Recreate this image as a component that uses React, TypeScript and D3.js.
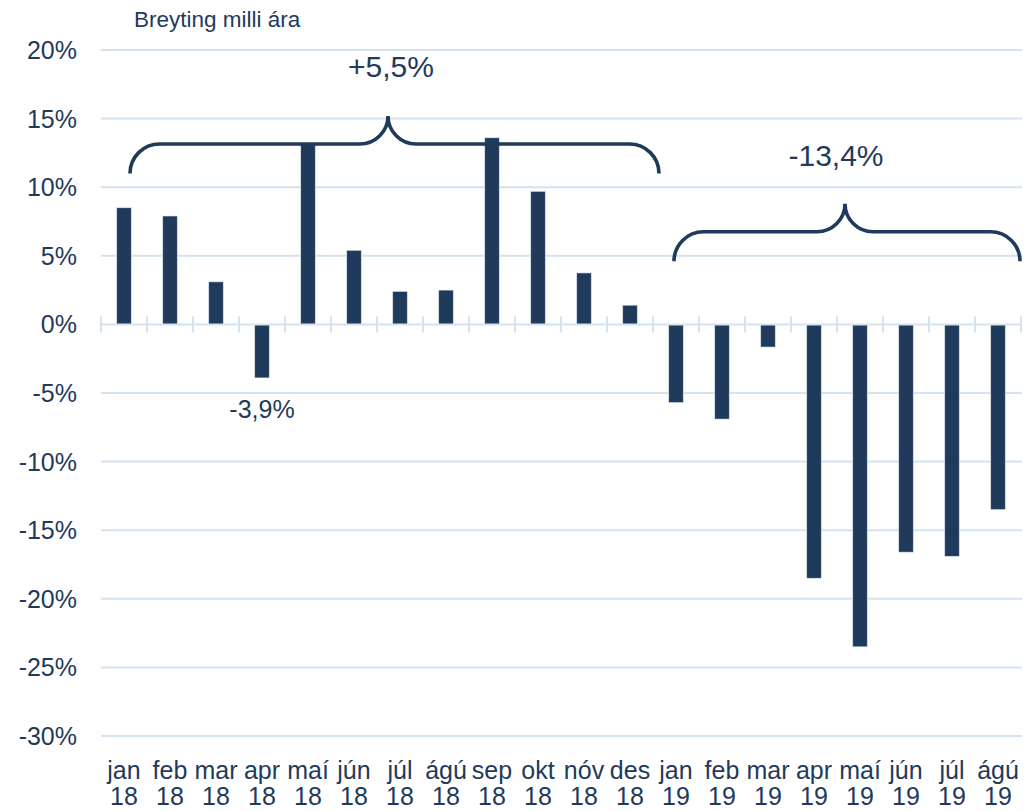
import React from "react";
import * as d3 from "d3";

const months = ["jan", "feb", "mar", "apr", "maí", "jún", "júl", "ágú", "sep", "okt", "nóv", "des", "jan", "feb", "mar", "apr", "maí", "jún", "júl", "ágú"];
const years = ["18", "18", "18", "18", "18", "18", "18", "18", "18", "18", "18", "18", "19", "19", "19", "19", "19", "19", "19", "19"];
const values = [8.5, 7.9, 3.1, -3.9, 13.2, 5.4, 2.4, 2.5, 13.6, 9.7, 3.75, 1.4, -5.7, -6.9, -1.65, -18.5, -23.5, -16.6, -16.9, -13.5];
const yTicks = [20, 15, 10, 5, 0, -5, -10, -15, -20, -25, -30];
const title = "Breyting milli ára";
const annotations = [
  { text: "+5,5%", from: 0, to: 11, level: 13.15 },
  { text: "-13,4%", from: 12, to: 19, level: 6.75 },
];
const apr18Label = { text: "-3,9%", index: 3 };

const W = 1026;
const H = 811;
const BAR = "#1F3A5B";
const TEXT = "#1F3A5B";
const GRID = "#D5E2F0";
const FONT = "'Liberation Sans', Arial, sans-serif";

// layout of the braces (pixels)
const braceLayout = [
  { left: 6, right: 29, peakShift: -6.5, labelShift: 3, labelY: 77 },
  { left: -2, right: 22, peakShift: -2, labelShift: -9, labelY: 166 },
];

export default function App() {
  const x = d3.scaleBand<number>().domain(d3.range(months.length)).range([101, 1021]).paddingInner(0.685).paddingOuter(0.3425);
  const y = d3.scaleLinear().domain([-30, 20]).range([736, 50]);
  const step = x.step();
  const cx = (i: number) => (x(i) as number) + x.bandwidth() / 2;

  const bracePath = (x0: number, x1: number, pk: number, yh: number) => {
    const r = 29.5;
    const p = 28;
    return [
      `M${x0},${yh + r}`,
      `A${r},${r} 0 0 1 ${x0 + r},${yh}`,
      `L${pk - p},${yh}`,
      `A${p},${p} 0 0 0 ${pk},${yh - p}`,
      `A${p},${p} 0 0 0 ${pk + p},${yh}`,
      `L${x1 - r},${yh}`,
      `A${r},${r} 0 0 1 ${x1},${yh + r}`,
    ].join(" ");
  };

  return (
    <div style={{ position: "absolute", left: 0, top: 0 }}>
      <svg width={W} height={H} style={{ display: "block", background: "#fff" }}>
        <text x={134} y={27} fontFamily={FONT} fontSize={22.5} fill={TEXT}>{title}</text>
        {yTicks.map((t) => (
          <g key={t}>
            {t !== 0 && <line x1={101} x2={1022} y1={y(t)} y2={y(t)} stroke={GRID} strokeWidth={2} />}
            <text x={77} y={y(t)} dy="0.36em" textAnchor="end" fontFamily={FONT} fontSize={25} fill={TEXT}>
              {t}%
            </text>
          </g>
        ))}
        {values.map((v, i) => (
          <rect key={i} x={x(i)} y={y(Math.max(0, v))} width={x.bandwidth()} height={Math.abs(y(v) - y(0))} fill={BAR} stroke="#D9E2EC" strokeWidth={0.6} />
        ))}
        <line x1={101} x2={1022} y1={y(0)} y2={y(0)} stroke={GRID} strokeWidth={2} />
        {d3.range(months.length + 1).map((i) => (
          <line key={i} x1={101 + i * step} x2={101 + i * step} y1={y(0) - 8} y2={y(0) + 8} stroke={GRID} strokeWidth={2} />
        ))}
        {months.map((m, i) => (
          <text key={i} x={cx(i)} textAnchor="middle" fontFamily={FONT} fontSize={25} fill={TEXT}>
            <tspan x={cx(i)} y={779}>{m}</tspan>
            <tspan x={cx(i)} y={805}>{years[i]}</tspan>
          </text>
        ))}
        {annotations.map((a, k) => {
          const L = braceLayout[k];
          const x0 = cx(a.from) + L.left;
          const x1 = cx(a.to) + L.right;
          const pk = (x0 + x1) / 2 + L.peakShift;
          return (
            <g key={k}>
              <path d={bracePath(x0, x1, pk, y(a.level))} fill="none" stroke={BAR} strokeWidth={3.6} />
              <text x={pk + L.labelShift} y={L.labelY} textAnchor="middle" fontFamily={FONT} fontSize={30} fill={TEXT}>
                {a.text}
              </text>
            </g>
          );
        })}
        <text x={cx(apr18Label.index)} y={418} textAnchor="middle" fontFamily={FONT} fontSize={25} fill={TEXT}>
          {apr18Label.text}
        </text>
      </svg>
    </div>
  );
}
